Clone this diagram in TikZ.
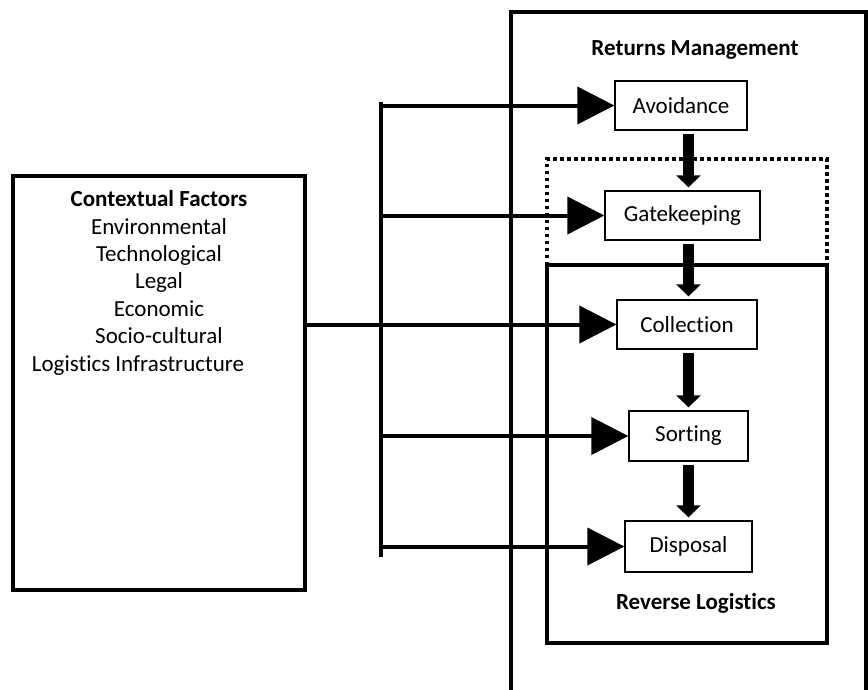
\documentclass[tikz,border=0pt]{standalone}
\usepackage{fontspec}
\setmainfont{Carlito}[Ligatures=NoCommon]
\usetikzlibrary{arrows.meta}

\begin{document}
\begin{tikzpicture}[x=1pt,y=-1pt]
        \tikzstyle{every node} = [font=\fontsize{23}{27.4}\selectfont]
        \tikzstyle{stage} = [draw,line width=1.3pt,minimum height=49pt,inner sep=0pt]
        \tikzstyle{frame} = [line width=4pt]
        \tikzstyle{feed} = [line width=4pt,-{Triangle[length=37pt,width=37pt]}]
        \tikzstyle{flow} = [line width=11pt,-{Triangle[length=12pt,width=24pt]},shorten <=3pt,shorten >=3pt]
            \useasboundingbox (0,0) rectangle (868,689);
            \clip (0,0) rectangle (868,689);

            % returns management frame (open at the bottom)
            \draw[frame] (511,700) -- (511,12) -- (866,12) -- (866,700);
            \node (rmlabel) at (695,50) {\textbf{Returns Management}};

            % gatekeeping overlap, dotted
            \draw[line width=3.5pt,dash pattern=on 3.5pt off 3.5pt] (547,265) -- (547,159) -- (827,159) -- (827,265);

            % reverse logistics
            \draw[frame] (547,265) rectangle (827,643);
            \node (rllabel) at (696,603) {\textbf{Reverse Logistics}};

            % stages
            \node[stage,minimum width=132pt] (avoid) at (681,105.5) {Avoidance};
            \node[stage,minimum width=155pt] (gate) at (682.5,215.5) {Gatekeeping};
            \node[stage,minimum width=140pt] (coll) at (687,324.5) {Collection};
            \node[stage,minimum width=119pt,minimum height=50pt] (sort) at (688.5,436) {Sorting};
            \node[stage,minimum width=127pt,minimum height=51pt] (disp) at (688.5,546.5) {Disposal};

            \foreach \a/\b in {avoid/gate,gate/coll,coll/sort,sort/disp}
                \draw[flow] (\a.south -| sort.north) -- (\b.north -| sort.north);

            % contextual factors
            \node[draw,frame,minimum width=292pt,minimum height=414pt] (ctx) at (159,383) {};
            \node[align=center,anchor=north] (ctxtext) at (159,187) {\textbf{Contextual Factors}\\Environmental\\Technological\\Legal\\Economic\\Socio-cultural\\Logistics Infrastructure\hspace*{42pt}};

            \coordinate (bustop) at (381,102);
            \coordinate (busbot) at (381,557);
            \draw[frame] (bustop) -- (busbot);
            \foreach \s in {avoid,gate,sort,disp}
                \draw[feed] (bustop |- \s.west) -- (\s.west);
            \draw[feed] (ctx.east |- coll.west) -- (coll.west);
\end{tikzpicture}
\end{document}
